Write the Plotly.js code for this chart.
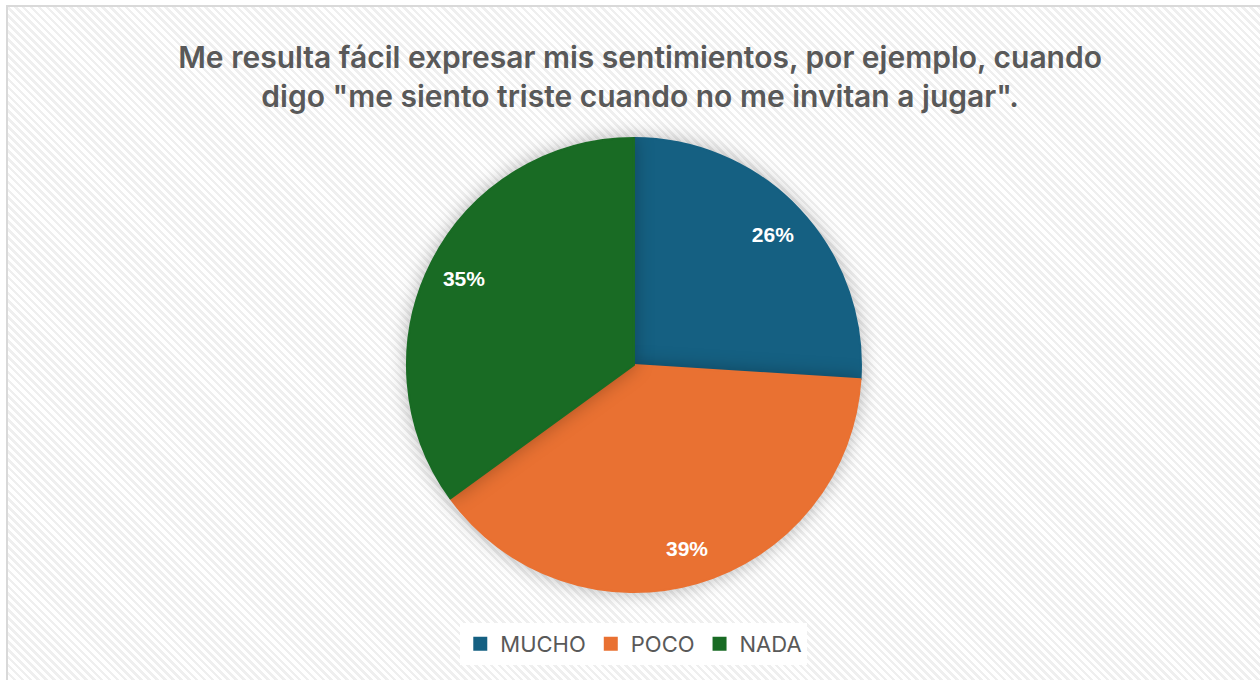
<!DOCTYPE html>
<html>
<head>
<meta charset="utf-8">
<script src="https://cdn.plot.ly/plotly-3.0.1.min.js"></script>
<style>
  html, body { margin: 0; padding: 0; background: #ffffff; }
  #frame {
    position: absolute; left: 6px; top: 5px; width: 1260px; height: 680px;
    border-left: 2px solid #d9d9d9; border-top: 2px solid #d9d9d9;
    background: repeating-linear-gradient(45deg, #ffffff 0px, #ffffff 3px, #efefef 3px, #efefef 5.6px);
  }
  #chart { position: absolute; left: 0; top: 0; width: 1260px; height: 680px; }
  .pielayer path.surface { filter: drop-shadow(0px 0px 9px rgba(0,0,0,0.28)); }
</style>
</head>
<body>
<div id="frame"></div>
<div id="chart"></div>
<script>
const categories = ["MUCHO", "POCO", "NADA"];
const values = [26, 39, 35];
const colors = ["#156082", "#E97132", "#196B24"];
const titleText = 'Me resulta fácil expresar mis sentimientos, por ejemplo, cuando<br>digo "me siento triste cuando no me invitan a jugar".';

const pieDomain = { x: [0.3230, 0.6833], y: [0.1290, 0.7975] };

const data = [
  {
    type: "pie",
    labels: categories,
    values: values,
    sort: false,
    direction: "clockwise",
    rotation: 0,
    marker: { colors: colors, line: { width: 2, color: colors } },
    textinfo: "none",
    hoverinfo: "label+percent",
    domain: pieDomain
  },
  {
    // transparent ring used only to place the percentage labels near the rim
    type: "pie",
    labels: categories,
    values: values,
    sort: false,
    direction: "clockwise",
    rotation: 0,
    hole: 0.68,
    showlegend: false,
    marker: { colors: ["rgba(0,0,0,0)", "rgba(0,0,0,0)", "rgba(0,0,0,0)"], line: { width: 0 } },
    texttemplate: "%{percent:.0%}",
    textposition: "inside",
    insidetextorientation: "horizontal",
    textfont: { family: "Liberation Sans, Arial, sans-serif", size: 21, color: "#ffffff", weight: 700 },
    hoverinfo: "skip",
    domain: pieDomain
  }
];

const layout = {
  width: 1260, height: 680,
  margin: { l: 0, r: 0, t: 0, b: 0 },
  paper_bgcolor: "rgba(0,0,0,0)",
  plot_bgcolor: "rgba(0,0,0,0)",
  title: {
    text: titleText,
    font: { family: "Inter, Open Sans, sans-serif", size: 30, color: "#595959", weight: 600 },
    x: 0.508, xanchor: "center",
    y: 0.900, yanchor: "middle"
  },
  showlegend: true,
  legend: {
    orientation: "h",
    x: 0.503, xanchor: "center",
    y: 0.022, yanchor: "bottom",
    bgcolor: "#ffffff",
    font: { family: "Inter, Open Sans, sans-serif", size: 22, color: "#595959" },
    itemwidth: 30,
    traceorder: "normal"
  }
};

Plotly.newPlot("chart", data, layout, { displayModeBar: false, staticPlot: true });
</script>
</body>
</html>
